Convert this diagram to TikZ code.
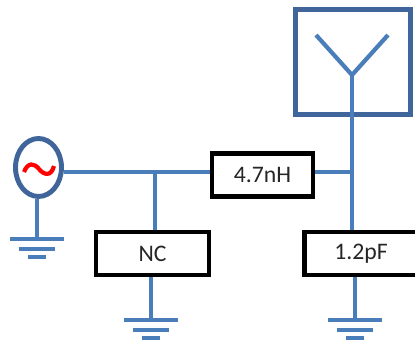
\documentclass[tikz,border=0pt]{standalone}
\usepackage{fontspec}
\setmainfont{Carlito}
\usetikzlibrary{shapes.geometric}
\definecolor{wireblue}{HTML}{4A7EBB}
\definecolor{rimblue}{HTML}{3F659A}
\tikzset{
  wire/.style={wireblue,line width=2.4pt},
  gnd/.style={wireblue,line width=2.4pt},
  part/.style={draw=black,line width=2.5pt,fill=white,inner sep=0pt,font=\fontsize{13.5}{15}\selectfont,text=black!85}
}
\newcommand{\ground}[2]{% node name, half width of the top bar
  \draw[gnd] (#1) +(-#2,0) -- +(#2,0);
  \draw[gnd] (#1) +(-.68*#2,10) -- +(.68*#2,10);
  \draw[gnd] (#1) +(-.34*#2,18) -- +(.34*#2,18);}
\begin{document}
\begin{tikzpicture}[x=.02cm,y=-.02cm]
  \useasboundingbox (0,0) rectangle (415,340);
  \coordinate (gndsrc) at (37,239);
  \coordinate (gndnc) at (151,320);
  \coordinate (gndcap) at (355,320);
  \coordinate (jnc) at (155,172);
  \coordinate (jant) at (352,172);
  \coordinate (feed) at (352,75);
  \coordinate (tipl) at (316,35);
  \coordinate (tipr) at (388,35);
  % antenna
  \node[draw=rimblue,line width=2.7pt,minimum width=2.3cm,minimum height=2.1cm,inner sep=0pt] (ant) at (353,62) {};
  \draw[wire] (tipl) -- (feed) -- (tipr);
  \draw[wire] (feed) -- (jant);
  % parts
  \node[part,minimum width=2.03cm,minimum height=.86cm] (ind) at (262.5,175) {4.7nH};
  \node[part,minimum width=2.26cm,minimum height=.86cm] (nc) at (152.5,253.5) {NC};
  \node[part,minimum width=2.26cm,minimum height=.86cm] (cap) at (361,253.5) {1.2pF};
  \node[ellipse,draw=rimblue,line width=2.8pt,fill=white,minimum width=.92cm,minimum height=1.16cm,inner sep=0pt] (src) at (38.5,167.5) {};
  \draw[red,line width=2.4pt] (24,172) .. controls (28,162) and (34,163) .. (39,169) .. controls (44,175) and (51,177) .. (54,166);
  % wires
  \draw[wire] (src.east |- jnc) -- (ind.west |- jnc);
  \draw[wire] (jnc) -- (jnc |- nc.north);
  \draw[wire] (ind.east |- jant) -- (jant);
  \draw[wire] (jant) -- (jant |- cap.north);
  \draw[wire] (gndsrc |- src.south) -- (gndsrc);
  \draw[wire] (gndnc |- nc.south) -- (gndnc);
  \draw[wire] (gndcap |- cap.south) -- (gndcap);
  \ground{gndsrc}{27}
  \ground{gndnc}{27}
  \ground{gndcap}{27}
\end{tikzpicture}
\end{document}
